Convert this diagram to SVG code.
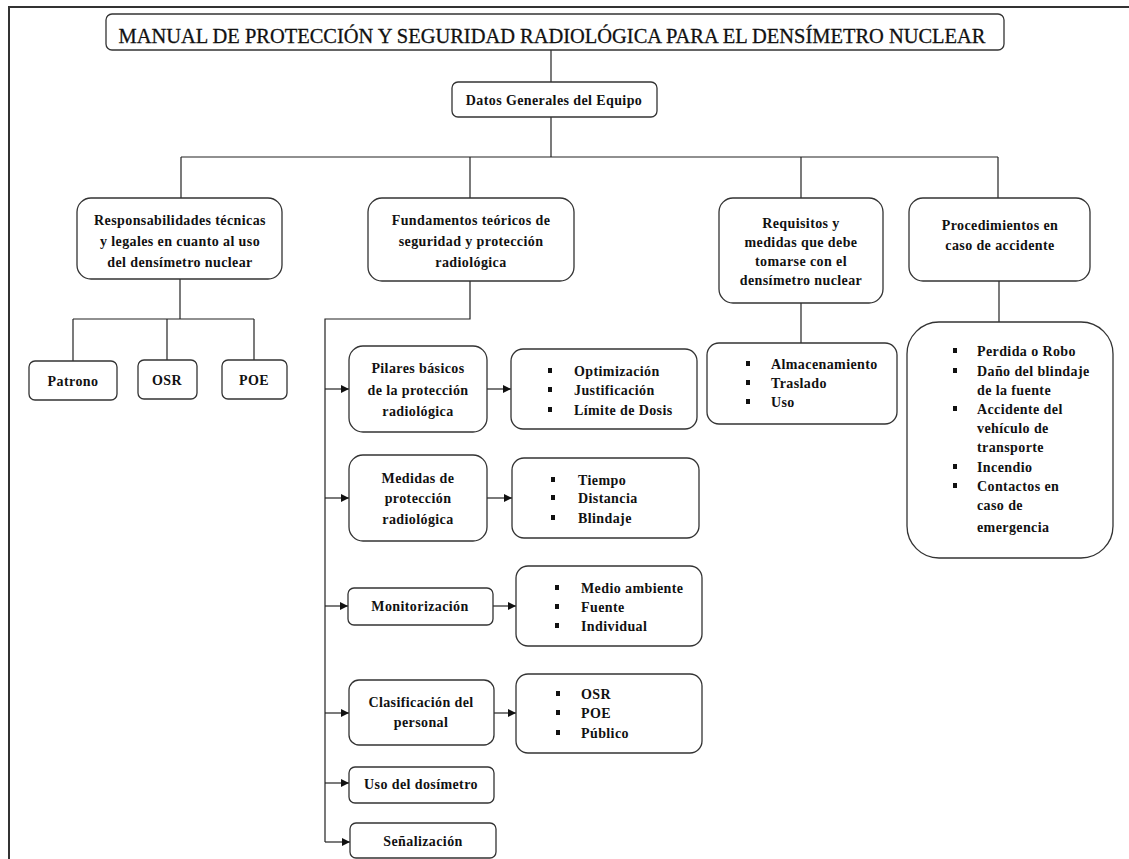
<svg xmlns="http://www.w3.org/2000/svg" width="1129" height="859" viewBox="0 0 1129 859">
<defs>
<style>
.box{fill:#fff;stroke:#333;stroke-width:1.3}
.ln{fill:none;stroke:#222;stroke-width:1.2}
.t{font-family:"Liberation Serif","Times New Roman",serif;font-size:14px;font-weight:bold;letter-spacing:0.4px;fill:#111}
.c{text-anchor:middle}
.title{font-family:"Liberation Serif","Times New Roman",serif;font-size:22px;fill:#111;stroke:#111;stroke-width:0.3;text-anchor:middle}
.b{fill:#111}
</style>
<marker id="ah" markerUnits="userSpaceOnUse" markerWidth="9" markerHeight="8" refX="8" refY="4" orient="auto">
<path d="M0,0 L8,4 L0,8 z" fill="#111"/>
</marker>
</defs>
<rect width="1129" height="859" fill="#fff"/>
<g id="frame">
<path d="M9,859 V7 H1129" fill="none" stroke="#333" stroke-width="2"/>
</g>
<g id="connectors">
<path class="ln" d="M551,50 V82"/>
<path class="ln" d="M551,117 V157"/>
<path class="ln" d="M181,157 H998"/>
<path class="ln" d="M181,157 V198"/>
<path class="ln" d="M470,157 V198"/>
<path class="ln" d="M801,157 V198"/>
<path class="ln" d="M998,157 V198"/>
<path class="ln" d="M180,279 V319"/>
<path class="ln" d="M73,319 H254"/>
<path class="ln" d="M73,319 V361"/>
<path class="ln" d="M167,319 V360"/>
<path class="ln" d="M254,319 V360"/>
<path class="ln" d="M470,281 V319 H325 V842"/>
<path class="ln" d="M801,303 V343"/>
<path class="ln" d="M999,281 V322"/>
<path class="ln" d="M325,389 H349" marker-end="url(#ah)"/>
<path class="ln" d="M325,498 H349" marker-end="url(#ah)"/>
<path class="ln" d="M325,606 H348" marker-end="url(#ah)"/>
<path class="ln" d="M325,713 H349" marker-end="url(#ah)"/>
<path class="ln" d="M325,783 H349" marker-end="url(#ah)"/>
<path class="ln" d="M325,842 H350" marker-end="url(#ah)"/>
<path class="ln" d="M487,389 H511" marker-end="url(#ah)"/>
<path class="ln" d="M487,498 H512" marker-end="url(#ah)"/>
<path class="ln" d="M493,606 H516" marker-end="url(#ah)"/>
<path class="ln" d="M494,713 H516" marker-end="url(#ah)"/>
</g>
<g id="title">
<rect class="box" x="106" y="14" width="898" height="36" rx="6"/>
<text class="title" x="552" y="42.5" textLength="867" lengthAdjust="spacingAndGlyphs">MANUAL DE PROTECCIÓN Y SEGURIDAD RADIOLÓGICA PARA EL DENSÍMETRO NUCLEAR</text>
</g>
<g id="datos">
<rect class="box" x="452" y="82" width="205" height="35" rx="6"/>
<text class="t c" x="554" y="105">Datos Generales del Equipo</text>
</g>
<g id="responsabilidades">
<rect class="box" x="77" y="198" width="205" height="81" rx="14"/>
<text class="t c" x="180" y="225">Responsabilidades técnicas</text>
<text class="t c" x="180" y="246">y legales en cuanto al uso</text>
<text class="t c" x="180" y="267">del densímetro nuclear</text>
</g>
<g id="fundamentos">
<rect class="box" x="368" y="198" width="206" height="83" rx="14"/>
<text class="t c" x="471" y="225">Fundamentos teóricos de</text>
<text class="t c" x="471" y="246">seguridad y protección</text>
<text class="t c" x="471" y="267">radiológica</text>
</g>
<g id="requisitos">
<rect class="box" x="719" y="198" width="164" height="105" rx="14"/>
<text class="t c" x="801" y="228">Requisitos y</text>
<text class="t c" x="801" y="247">medidas que debe</text>
<text class="t c" x="801" y="266">tomarse con el</text>
<text class="t c" x="801" y="285">densímetro nuclear</text>
</g>
<g id="procedimientos">
<rect class="box" x="909" y="198" width="181" height="83" rx="14"/>
<text class="t c" x="1000" y="230">Procedimientos en</text>
<text class="t c" x="1000" y="250">caso de accidente</text>
</g>
<g id="patrono">
<rect class="box" x="29" y="361" width="88" height="39" rx="6"/>
<text class="t c" x="73" y="386">Patrono</text>
</g>
<g id="osr">
<rect class="box" x="138" y="360" width="59" height="39" rx="6"/>
<text class="t c" x="167" y="385">OSR</text>
</g>
<g id="poe">
<rect class="box" x="222" y="360" width="65" height="39" rx="6"/>
<text class="t c" x="254" y="385">POE</text>
</g>
<g id="pilares">
<rect class="box" x="349" y="346" width="138" height="86" rx="14"/>
<text class="t c" x="418" y="373">Pilares básicos</text>
<text class="t c" x="418" y="395">de la protección</text>
<text class="t c" x="418" y="416">radiológica</text>
</g>
<g id="pilares-lista">
<rect class="box" x="511" y="349" width="186" height="80" rx="12"/>
<rect class="b" x="548" y="368" width="4" height="5"/>
<rect class="b" x="548" y="387" width="4" height="5"/>
<rect class="b" x="548" y="407" width="4" height="5"/>
<text class="t" x="574" y="376">Optimización</text>
<text class="t" x="574" y="395">Justificación</text>
<text class="t" x="574" y="415">Límite de Dosis</text>
</g>
<g id="medidas">
<rect class="box" x="349" y="455" width="138" height="86" rx="14"/>
<text class="t c" x="418" y="483">Medidas de</text>
<text class="t c" x="418" y="503">protección</text>
<text class="t c" x="418" y="524">radiológica</text>
</g>
<g id="medidas-lista">
<rect class="box" x="512" y="458" width="187" height="80" rx="12"/>
<rect class="b" x="551" y="477" width="4" height="5"/>
<rect class="b" x="551" y="495" width="4" height="5"/>
<rect class="b" x="551" y="515" width="4" height="5"/>
<text class="t" x="578" y="485">Tiempo</text>
<text class="t" x="578" y="503">Distancia</text>
<text class="t" x="578" y="523">Blindaje</text>
</g>
<g id="monitorizacion">
<rect class="box" x="348" y="588" width="145" height="37" rx="6"/>
<text class="t c" x="420" y="611">Monitorización</text>
</g>
<g id="monitorizacion-lista">
<rect class="box" x="516" y="566" width="186" height="80" rx="12"/>
<rect class="b" x="555" y="585" width="4" height="5"/>
<rect class="b" x="555" y="604" width="4" height="5"/>
<rect class="b" x="555" y="623" width="4" height="5"/>
<text class="t" x="581" y="593">Medio ambiente</text>
<text class="t" x="581" y="612">Fuente</text>
<text class="t" x="581" y="631">Individual</text>
</g>
<g id="clasificacion">
<rect class="box" x="349" y="680" width="145" height="65" rx="10"/>
<text class="t c" x="421" y="707">Clasificación del</text>
<text class="t c" x="421" y="727">personal</text>
</g>
<g id="clasificacion-lista">
<rect class="box" x="516" y="674" width="186" height="79" rx="12"/>
<rect class="b" x="556" y="691" width="4" height="5"/>
<rect class="b" x="556" y="710" width="4" height="5"/>
<rect class="b" x="556" y="730" width="4" height="5"/>
<text class="t" x="581" y="699">OSR</text>
<text class="t" x="581" y="718">POE</text>
<text class="t" x="581" y="738">Público</text>
</g>
<g id="dosimetro">
<rect class="box" x="349" y="767" width="145" height="36" rx="6"/>
<text class="t c" x="421" y="789">Uso del dosímetro</text>
</g>
<g id="senalizacion">
<rect class="box" x="350" y="823" width="146" height="35" rx="6"/>
<text class="t c" x="423" y="846">Señalización</text>
</g>
<g id="requisitos-lista">
<rect class="box" x="707" y="343" width="190" height="81" rx="12"/>
<rect class="b" x="746" y="361" width="4" height="5"/>
<rect class="b" x="746" y="380" width="4" height="5"/>
<rect class="b" x="746" y="399" width="4" height="5"/>
<text class="t" x="771" y="369">Almacenamiento</text>
<text class="t" x="771" y="388">Traslado</text>
<text class="t" x="771" y="407">Uso</text>
</g>
<g id="procedimientos-lista">
<rect class="box" x="907" y="322" width="206" height="236" rx="32"/>
<rect class="b" x="953" y="348" width="4" height="5"/>
<rect class="b" x="953" y="368" width="4" height="5"/>
<rect class="b" x="953" y="406" width="4" height="5"/>
<rect class="b" x="953" y="464" width="4" height="5"/>
<rect class="b" x="953" y="483" width="4" height="5"/>
<text class="t" x="977" y="356">Perdida o Robo</text>
<text class="t" x="977" y="376">Daño del blindaje</text>
<text class="t" x="977" y="395">de la fuente</text>
<text class="t" x="977" y="414">Accidente del</text>
<text class="t" x="977" y="433">vehículo de</text>
<text class="t" x="977" y="452">transporte</text>
<text class="t" x="977" y="472">Incendio</text>
<text class="t" x="977" y="491">Contactos en</text>
<text class="t" x="977" y="510">caso de</text>
<text class="t" x="977" y="532">emergencia</text>
</g>
</svg>
